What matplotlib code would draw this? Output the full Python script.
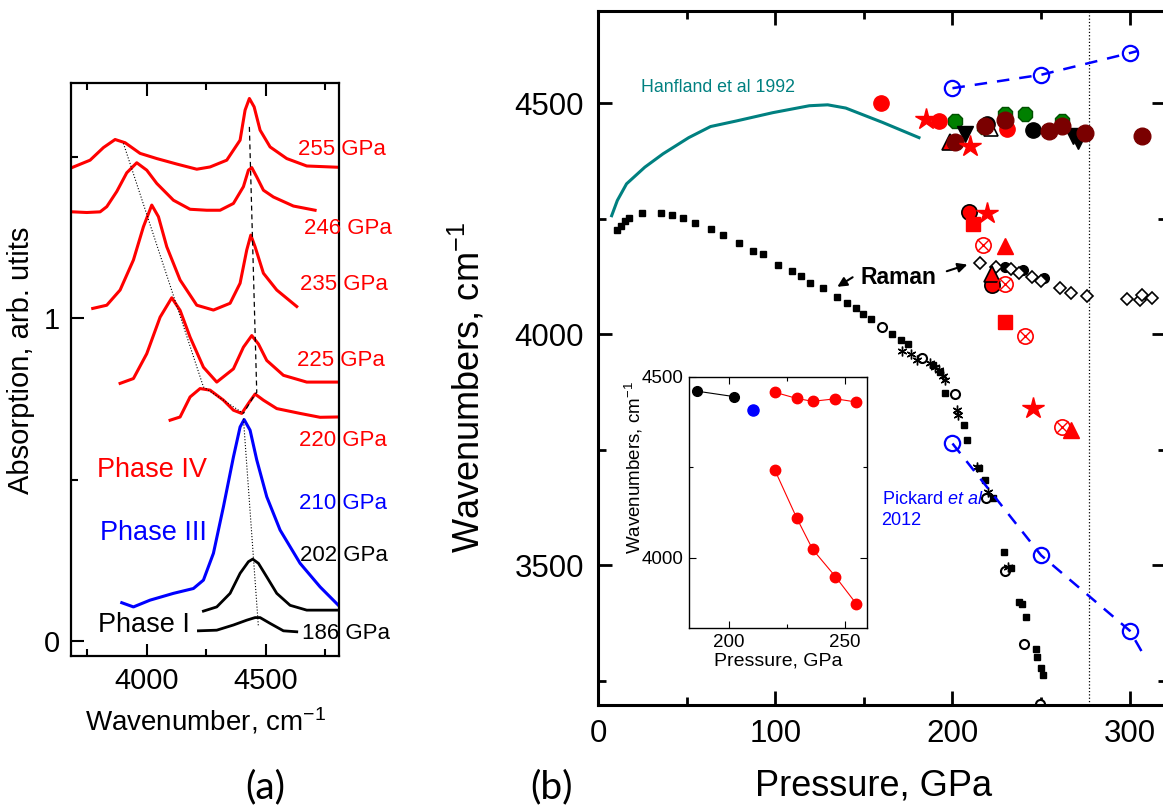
import matplotlib.pyplot as plt
from matplotlib.ticker import FixedLocator

plt.rcParams['font.family'] = ['Liberation Sans', 'DejaVu Sans']
plt.rcParams['mathtext.fontset'] = 'custom'
plt.rcParams['mathtext.rm'] = 'Liberation Sans'
plt.rcParams['mathtext.it'] = 'Liberation Sans:italic'
plt.rcParams['mathtext.bf'] = 'Liberation Sans:bold'

# ---- (a) IR spectra (wavenumber, absorption) ----
w255 = [3689, 3762, 3818, 3867, 3909, 3972, 4042, 4126, 4210, 4266, 4336, 4392, 4413, 4431, 4451, 4476, 4518, 4588, 4672, 4805]
a255 = [1.467, 1.489, 1.528, 1.553, 1.543, 1.510, 1.494, 1.477, 1.461, 1.468, 1.489, 1.551, 1.644, 1.680, 1.654, 1.582, 1.530, 1.494, 1.471, 1.467]
w246 = [3689, 3748, 3804, 3832, 3874, 3916, 3958, 4000, 4042, 4112, 4182, 4252, 4308, 4364, 4406, 4427, 4441, 4462, 4490, 4532, 4616, 4707]
a246 = [1.329, 1.327, 1.329, 1.345, 1.392, 1.450, 1.481, 1.458, 1.417, 1.365, 1.337, 1.334, 1.334, 1.355, 1.407, 1.458, 1.466, 1.437, 1.396, 1.375, 1.347, 1.334]
w235 = [3773, 3832, 3888, 3944, 3986, 4021, 4049, 4084, 4140, 4210, 4280, 4350, 4392, 4420, 4437, 4455, 4490, 4546, 4630]
a235 = [1.030, 1.040, 1.087, 1.180, 1.283, 1.350, 1.314, 1.221, 1.118, 1.040, 1.025, 1.046, 1.108, 1.211, 1.257, 1.221, 1.139, 1.087, 1.036]
w225 = [3888, 3944, 4000, 4056, 4105, 4140, 4182, 4238, 4294, 4364, 4406, 4441, 4469, 4504, 4574, 4672, 4805]
a225 = [0.798, 0.813, 0.890, 1.003, 1.063, 1.024, 0.941, 0.848, 0.802, 0.843, 0.910, 0.946, 0.920, 0.869, 0.823, 0.802, 0.802]
w220 = [4098, 4140, 4182, 4224, 4266, 4322, 4364, 4399, 4427, 4455, 4490, 4546, 4644, 4728, 4805]
a220 = [0.684, 0.694, 0.756, 0.782, 0.777, 0.746, 0.715, 0.705, 0.736, 0.765, 0.746, 0.720, 0.705, 0.693, 0.694]
w210 = [3895, 3944, 4014, 4112, 4196, 4238, 4280, 4322, 4364, 4392, 4409, 4434, 4462, 4504, 4560, 4644, 4728, 4805]
a210 = [0.119, 0.106, 0.127, 0.148, 0.163, 0.189, 0.272, 0.416, 0.570, 0.663, 0.686, 0.653, 0.561, 0.447, 0.344, 0.241, 0.168, 0.111]
w202 = [4238, 4294, 4350, 4392, 4427, 4445, 4469, 4504, 4546, 4602, 4672, 4805]
a202 = [0.093, 0.106, 0.148, 0.210, 0.246, 0.254, 0.241, 0.199, 0.148, 0.111, 0.096, 0.096]
w186 = [4217, 4294, 4364, 4420, 4455, 4476, 4518, 4574, 4630]
a186 = [0.032, 0.034, 0.050, 0.065, 0.073, 0.073, 0.055, 0.032, 0.029]

# peak-tracking guide lines
guide_low_w = [3902, 4238, 4406]
guide_low_a = [1.541, 0.787, 0.705]
guide_mid_w = [4406, 4469]
guide_mid_a = [0.689, 0.044]
guide_hi_w = [4431, 4462, 4455, 4406]
guide_hi_a = [1.592, 0.770, 0.765, 0.705]

# ---- (b) pressure (GPa) vs wavenumber ----
hanfland_p = [7.7, 10.9, 16.1, 26.4, 36.7, 51.2, 63.5, 78.0, 98.6, 119.2, 129.6, 139.8, 160.5, 181.1]
hanfland_w = [4257, 4290, 4326, 4362, 4391, 4426, 4450, 4462, 4480, 4495, 4497, 4490, 4459, 4426]

raman_sq_p = [10.6, 12.8, 15.2, 17.7, 24.7, 35.6, 41.6, 47.8, 54.7, 63.6, 70.7, 79.7, 87.6, 93.3, 101.7, 109.6,
              114.6, 119.6, 126.8, 134.7, 140.7, 145.6, 149.7, 153.9, 165.7, 170.8, 175.1, 189.2, 193.0, 195.8,
              206.5, 208.4, 215.2, 218.4, 223.1, 229.1, 232.9, 237.6, 239.1, 241.5, 247.2, 247.9, 249.8, 251.3]
raman_sq_w = [4226, 4235, 4245, 4253, 4263, 4263, 4258, 4252, 4241, 4228, 4216, 4198, 4181, 4175, 4151, 4138,
              4126, 4111, 4100, 4081, 4067, 4057, 4045, 4034, 4000, 3989, 3980, 3933, 3918, 3873,
              3805, 3771, 3712, 3686, 3645, 3530, 3494, 3421, 3416, 3389, 3319, 3301, 3278, 3262]
raman_oc_p = [160.1, 182.7, 201.5, 218.8, 229.7, 240.6, 249.4]
raman_oc_w = [4016, 3950, 3872, 3645, 3488, 3329, 3200]
raman_ast_p = [171.4, 176.5, 179.8, 187.4, 190.2, 192.6, 194.9, 195.8, 202.4, 203.3, 213.7, 220.3, 231.5]
raman_ast_w = [3965, 3958, 3944, 3938, 3929, 3924, 3909, 3901, 3837, 3825, 3713, 3659, 3497]
raman_dia_p = [215.6, 224.6, 232.9, 237.8, 244.7, 249.8, 260.7, 266.8, 276.1, 298.7, 305.9, 306.8, 312.8]
raman_dia_w = [4154, 4147, 4142, 4133, 4124, 4115, 4101, 4089, 4084, 4077, 4075, 4086, 4078]
raman_dot_p = [229.7, 240.0, 251.7]
raman_dot_w = [4147, 4140, 4123]

pick_hi_p = [200, 250, 300]
pick_hi_w = [4533, 4562, 4609]
pick_hi_line_p = [200, 250, 300, 305]
pick_hi_line_w = [4533, 4562, 4609, 4614]
pick_lo_p = [200, 250, 300]
pick_lo_w = [3764, 3522, 3359]
pick_lo_line_p = [200, 250, 300, 308.7]
pick_lo_line_w = [3764, 3522, 3359, 3301]

red_circ_p = [159.9, 192.4, 230.6]
red_circ_w = [4500, 4461, 4445]
red_circ_k_p = [209.5, 222.2]
red_circ_k_w = [4266, 4108]
red_star_p = [184.8, 209.9, 219.3, 245.7]
red_star_w = [4466, 4408, 4263, 3841]
red_sq_p = [211.4, 229.7]
red_sq_w = [4239, 4027]
red_tri_p = [229.7, 266.8]
red_tri_w = [4192, 3794]
red_tri_k_p = [198.6, 222.2]
red_tri_k_w = [4416, 4130]
red_ox_p = [217.4, 229.7, 241.0, 261.7]
red_ox_w = [4194, 4110, 3996, 3800]
green_p = [201.7, 218.0, 229.6, 241.0, 261.6]
green_w = [4461, 4450, 4477, 4477, 4461]
black_circ_p = [219.3, 245.7]
black_circ_w = [4455, 4442]
black_open_tri_p = [222.0]
black_open_tri_w = [4445]
black_dtri_p = [206.9, 267.8, 270.8]
black_dtri_w = [4434, 4430, 4419]
maroon_p = [201.7, 218.2, 229.6, 254.4, 261.6, 275.0, 306.9]
maroon_w = [4416, 4452, 4465, 4441, 4452, 4436, 4430]

transition_p = 277

# inset: IR peak positions
inset_black_p = [186.3, 202.2]
inset_black_w = [4460, 4445]
inset_blue_p = [210.2]
inset_blue_w = [4408]
inset_red_p = [219.8, 229.2, 236.1, 245.9, 255.0]
inset_red_hi_w = [4457, 4440, 4432, 4439, 4430]
inset_red_lo_w = [4242, 4110, 4023, 3948, 3872]

RED = '#ff0000'
BLUE = '#0000ff'
ASTERISK = (6, 2, 0)

fig = plt.figure(figsize=(11.63, 8.11), dpi=100)

# ================= panel (a) =================
axa = fig.add_axes([0.0611, 0.1911, 0.2307, 0.7062])
for w, a in [(w255, a255), (w246, a246), (w235, a235), (w225, a225), (w220, a220)]:
    axa.plot(w, a, color=RED, lw=2.2)
axa.plot(w210, a210, color=BLUE, lw=2.2)
axa.plot(w202, a202, color='k', lw=2.0)
axa.plot(w186, a186, color='k', lw=2.0)
axa.plot(guide_low_w, guide_low_a, color='k', lw=0.8, ls=':')
axa.plot(guide_mid_w, guide_mid_a, color='k', lw=0.8, ls=':')
axa.plot(guide_hi_w, guide_hi_a, color='k', lw=0.9, ls='--', dashes=(4, 3))

axa.set_xlim(3682, 4809)
axa.set_ylim(-0.046, 1.727)
axa.xaxis.set_major_locator(FixedLocator([4000, 4500]))
axa.xaxis.set_minor_locator(FixedLocator([3750, 4250, 4750]))
axa.yaxis.set_major_locator(FixedLocator([0, 1]))
axa.yaxis.set_minor_locator(FixedLocator([0.5, 1.5]))
axa.tick_params(which='both', direction='in', top=True, right=False, width=1.5, labelsize=21, pad=8)
axa.tick_params(which='major', length=9)
axa.tick_params(which='minor', length=5)
for s in axa.spines.values():
    s.set_linewidth(1.6)
axa.set_xlabel('Wavenumber, cm$^{-1}$', fontsize=20)
axa.xaxis.set_label_coords(0.50, -0.086)
axa.set_ylabel('Absorption, arb. utits', fontsize=21)
axa.yaxis.set_label_coords(-0.134, 0.516)

spec_labels = ['255 GPa', '246 GPa', '235 GPa', '225 GPa', '220 GPa', '210 GPa', '202 GPa', '186 GPa']
spec_colors = [RED, RED, RED, RED, RED, BLUE, 'k', 'k']
lab_x = [4636, 4661, 4644, 4632, 4640, 4640, 4644, 4653]
lab_y = [1.523, 1.276, 1.105, 0.870, 0.622, 0.427, 0.266, 0.025]
for t, c, x, y in zip(spec_labels, spec_colors, lab_x, lab_y):
    axa.text(x, y, t, color=c, fontsize=16, va='center', ha='left', clip_on=False)
axa.text(3791, 0.529, 'Phase IV', color=RED, fontsize=19.5, va='center')
axa.text(3804, 0.334, 'Phase III', color=BLUE, fontsize=19.5, va='center')
axa.text(3795, 0.050, 'Phase I', color='k', fontsize=19.5, va='center')

# ================= panel (b) =================
axb = fig.add_axes([0.5142, 0.1307, 0.4884, 0.8557])
axb.plot(hanfland_p, hanfland_w, color='#008080', lw=2.2)
axb.axvline(transition_p, color='k', lw=0.9, ls=':')

axb.plot(raman_sq_p, raman_sq_w, 's', color='k', ms=5)
axb.plot(raman_oc_p, raman_oc_w, 'o', mfc='white', mec='k', mew=1.5, ms=6.5)
axb.plot(raman_ast_p, raman_ast_w, marker=ASTERISK, ls='none', color='k', mew=1.0, ms=7)
axb.plot(raman_dot_p, raman_dot_w, 'o', color='k', ms=7)
axb.plot(raman_dia_p, raman_dia_w, 'D', mfc='white', mec='k', mew=1.2, ms=6.5)

axb.plot(pick_hi_line_p, pick_hi_line_w, color=BLUE, lw=1.8, ls='--', dashes=(5, 4))
axb.plot(pick_hi_p, pick_hi_w, 'o', mfc='none', mec=BLUE, mew=1.6, ms=11)
axb.plot(pick_lo_line_p, pick_lo_line_w, color=BLUE, lw=1.8, ls='--', dashes=(5, 4))
axb.plot(pick_lo_p, pick_lo_w, 'o', mfc='none', mec=BLUE, mew=1.6, ms=11)

axb.plot(green_p, green_w, '8', color='#008000', mec='#005000', ms=11)
axb.plot(red_circ_p, red_circ_w, 'o', color=RED, ms=11)
axb.plot(red_circ_k_p, red_circ_k_w, 'o', color=RED, mec='k', mew=1.2, ms=11)
axb.plot(red_sq_p, red_sq_w, 's', color=RED, ms=10)
axb.plot(red_tri_k_p, red_tri_k_w, '^', color=RED, mec='k', mew=1.2, ms=11)
axb.plot(red_tri_p, red_tri_w, '^', color=RED, ms=11)
axb.plot(red_ox_p, red_ox_w, 'o', mfc='none', mec=RED, mew=1.2, ms=11)
axb.plot(red_ox_p, red_ox_w, 'x', color=RED, mew=1.0, ms=9)
axb.plot(black_dtri_p, black_dtri_w, 'v', color='k', ms=11)
axb.plot(black_circ_p, black_circ_w, 'o', color='k', ms=11)
axb.plot(black_open_tri_p, black_open_tri_w, '^', mfc='white', mec='k', mew=1.2, ms=10)
axb.plot(maroon_p, maroon_w, 'o', color='#7a0000', ms=12)
axb.plot(red_star_p, red_star_w, '*', color=RED, ms=16)

axb.text(24.3, 4534, 'Hanfland et al 1992', color='#008080', fontsize=12.8, va='center')
axb.text(160, 3643, r'Pickard $\mathit{et\ al}$', color=BLUE, fontsize=13, va='center')
axb.text(160, 3598, '2012', color=BLUE, fontsize=13, va='center')
axb.text(169.3, 4124, 'Raman', fontsize=16.5, fontweight='bold', ha='center', va='center')
axb.annotate('', xy=(209.9, 4153), xytext=(195.3, 4135),
             arrowprops=dict(arrowstyle='-|>', color='k', lw=1.5, mutation_scale=14))
axb.annotate('', xy=(133.7, 4100), xytext=(145.0, 4127),
             arrowprops=dict(arrowstyle='-|>', color='k', lw=1.5, mutation_scale=14))

axb.set_xlim(0, 320.5)
axb.set_ylim(3198, 4700)
axb.xaxis.set_major_locator(FixedLocator([0, 100, 200, 300]))
axb.xaxis.set_minor_locator(FixedLocator([50, 150, 250]))
axb.yaxis.set_major_locator(FixedLocator([3500, 4000, 4500]))
axb.yaxis.set_minor_locator(FixedLocator([3250, 3750, 4250]))
axb.tick_params(which='both', direction='in', top=True, right=True, width=2, labelsize=22.5, pad=10)
axb.tick_params(which='major', length=10)
axb.tick_params(which='minor', length=6)
for s in axb.spines.values():
    s.set_linewidth(2.2)
axb.set_xlabel('Pressure, GPa', fontsize=26)
axb.xaxis.set_label_coords(0.4856, -0.091)
axb.set_ylabel('Wavenumbers, cm$^{-1}$', fontsize=26)
axb.yaxis.set_label_coords(-0.195, 0.457)

# ---- inset ----
axi = fig.add_axes([0.5927, 0.2253, 0.1525, 0.3102])
axi.set_facecolor('white')
axi.plot(inset_black_p, inset_black_w, '-o', color='k', lw=0.8, ms=7)
axi.plot(inset_blue_p, inset_blue_w, 'o', color=BLUE, ms=8)
axi.plot(inset_red_p, inset_red_hi_w, '-o', color=RED, lw=0.8, ms=7.5)
axi.plot(inset_red_p, inset_red_lo_w, '-o', color=RED, lw=0.8, ms=7.5)
axi.set_xlim(182.9, 259.4)
axi.set_ylim(3805, 4500)
axi.xaxis.set_major_locator(FixedLocator([200, 250]))
axi.xaxis.set_minor_locator(FixedLocator([225]))
axi.yaxis.set_major_locator(FixedLocator([4000, 4500]))
axi.yaxis.set_minor_locator(FixedLocator([4250]))
axi.tick_params(which='both', direction='in', top=True, right=True, width=0.8, labelsize=13.5, pad=4)
axi.tick_params(which='major', length=5)
axi.tick_params(which='minor', length=3)
for s in axi.spines.values():
    s.set_linewidth(1.0)
axi.set_xlabel('Pressure, GPa', fontsize=14)
axi.xaxis.set_label_coords(0.50, -0.098)
axi.set_ylabel('Wavenumbers, cm$^{-1}$', fontsize=13.5)
axi.yaxis.set_label_coords(-0.25, 0.64)

fig.text(265 / 1163, 1 - 787 / 811, '(a)', fontsize=28, family=['Lato', 'DejaVu Sans'], ha='center', va='center')
fig.text(552 / 1163, 1 - 787 / 811, '(b)', fontsize=28, family=['Lato', 'DejaVu Sans'], ha='center', va='center')

fig.savefig('out.png', dpi=100)
